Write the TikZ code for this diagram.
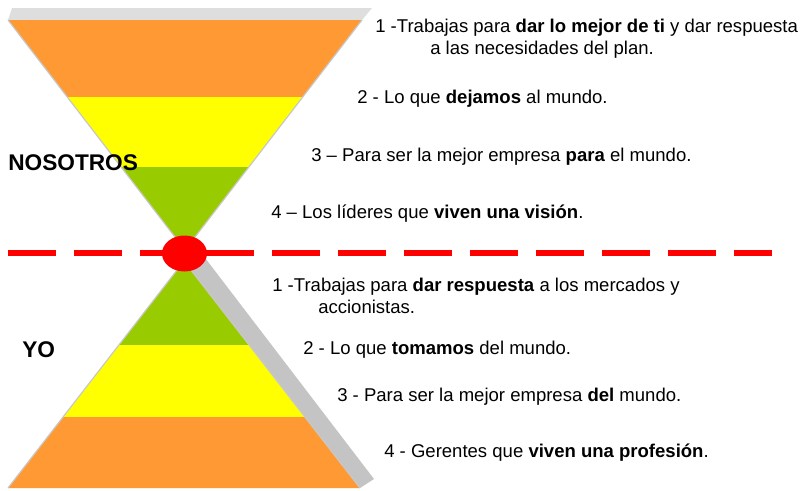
\documentclass[tikz,border=0pt]{standalone}
\usepackage{fontspec}
\setmainfont{Liberation Sans}
\usetikzlibrary{shapes.geometric}
\definecolor{lvorange}{HTML}{FF9933}
\definecolor{lvyellow}{HTML}{FFFF00}
\definecolor{lvgreen}{HTML}{99CC00}
\definecolor{lvstrip}{HTML}{C4C4C4}
\definecolor{lvtop}{HTML}{DEDEDE}
\definecolor{lvedge}{HTML}{C8C8C8}
\begin{document}
\begin{tikzpicture}[x=0.75pt,y=-0.75pt,
  edgeline/.style={draw=lvedge,line width=0.9pt},
  txt/.style={anchor=base west,inner sep=0pt,font=\fontsize{13.9}{16}\selectfont},
  side/.style={anchor=base west,inner sep=0pt,font=\fontsize{17}{20}\selectfont\bfseries}]
\useasboundingbox (0,0) rectangle (804,490);
% upper funnel
\fill[lvtop] (8,20) -- (362,20) -- (372,8) -- (12,8) -- cycle;
\fill[lvorange] (8,20) -- (362,20) -- (302.7,97) -- (67.3,97) -- cycle;
\fill[lvyellow] (67.3,97) -- (302.7,97) -- (248.9,167) -- (121.1,167) -- cycle;
\fill[lvgreen] (121.1,167) -- (248.9,167) -- (185,250) -- cycle;
\draw[edgeline] (8,20) -- (185,250) -- (362,20);
% lower pyramid
\fill[lvstrip] (184,261) -- (360,488) -- (374,479) -- (199,250) -- cycle;
\fill[lvgreen] (184,261) -- (249.1,345) -- (118.9,345) -- cycle;
\fill[lvyellow] (118.9,345) -- (249.1,345) -- (305,417) -- (63,417) -- cycle;
\fill[lvorange] (63,417) -- (305,417) -- (360,488) -- (8,488) -- cycle;
\draw[edgeline] (8,488) -- (184,261) -- (360,488);
% dashed divider
\coordinate (dl) at (8,252.5);
\coordinate (dr) at (772,252.5);
\draw[red,line width=4.5pt,dash pattern=on 35.8pt off 13.7pt] (dl) -- (dr);
\node[ellipse,fill=red,minimum width=33.75pt,minimum height=27pt,inner sep=0pt] (knot) at (184.5,253.5) {};
% side labels
\node[side] (nos) at (8,170) {NOSOTROS};
\node[side] (yo) at (22,357) {YO};
% upper texts
\node[txt] (u1a) at (375,32.5) {1 -Trabajas para \textbf{dar lo mejor de ti} y dar respuesta};
\node[txt] (u1b) at (430,54.5) {a las necesidades del plan.};
\node[txt] (u2) at (357,103.5) {2 - Lo que \textbf{dejamos} al mundo.};
\node[txt] (u3) at (311,161.5) {3 – Para ser la mejor empresa \textbf{para} el mundo.};
\node[txt] (u4) at (271,218.5) {4 – Los líderes que \textbf{viven una visión}.};
% lower texts
\node[txt] (l1a) at (272,291.5) {1 -Trabajas para \textbf{dar respuesta} a los mercados y};
\node[txt] (l1b) at (318,313.5) {accionistas.};
\node[txt] (l2) at (303,354.5) {2 - Lo que \textbf{tomamos} del mundo.};
\node[txt] (l3) at (337,401.5) {3 - Para ser la mejor empresa \textbf{del} mundo.};
\node[txt] (l4) at (384,457.5) {4 - Gerentes que \textbf{viven una profesión}.};
\end{tikzpicture}
\end{document}
